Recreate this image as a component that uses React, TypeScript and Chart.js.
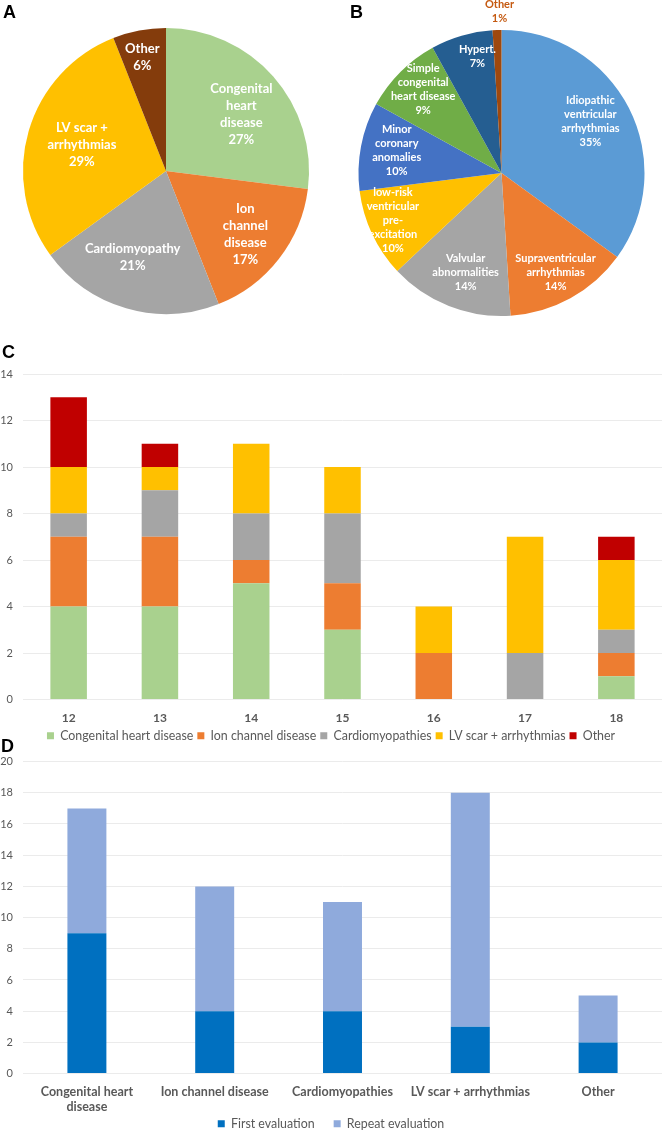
import React, { useEffect, useRef } from 'react';
import { Chart, registerables } from 'chart.js';

Chart.register(...registerables);

// ---------- DATA ----------
// Panel A
const pieALabels = [['Congenital', 'heart', 'disease'], ['Ion', 'channel', 'disease'], ['Cardiomyopathy'], ['LV scar +', 'arrhythmias'], ['Other']];
const pieAValues = [27, 17, 21, 29, 6];
const pieAColors = ['#A9D18E', '#ED7D31', '#A5A5A5', '#FFC000', '#843C0C'];

// Panel B
const pieBLabels = [
  ['Idiopathic', 'ventricular', 'arrhythmias'],
  ['Supraventricular', 'arrhythmias'],
  ['Valvular', 'abnormalities'],
  ['low-risk', 'ventricular', 'pre-', 'excitation'],
  ['Minor', 'coronary', 'anomalies'],
  ['Simple', 'congenital', 'heart disease'],
  ['Hypert.'],
  ['Other'],
];
const pieBValues = [35, 14, 14, 10, 10, 9, 7, 1];
const pieBColors = ['#5B9BD5', '#ED7D31', '#A5A5A5', '#FFC000', '#4472C4', '#70AD47', '#255E91', '#9E480E'];

// Panel C
const ageCategories = ['12', '13', '14', '15', '16', '17', '18'];
const cSeriesNames = ['Congenital heart disease', 'Ion channel disease', 'Cardiomyopathies', 'LV scar + arrhythmias', 'Other'];
const congenitalByAge = [4, 4, 5, 3, 0, 0, 1];
const ionChannelByAge = [3, 3, 1, 2, 2, 0, 1];
const cardiomyopathyByAge = [1, 2, 2, 3, 0, 2, 1];
const lvScarByAge = [2, 1, 3, 2, 2, 5, 3];
const otherByAge = [3, 1, 0, 0, 0, 0, 1];
const cSeriesColors = ['#A9D18E', '#ED7D31', '#A5A5A5', '#FFC000', '#C00000'];
const cYMax = 14;
const cYStep = 2;

// Panel D
const dCategories = [['Congenital heart', 'disease'], 'Ion channel disease', 'Cardiomyopathies', 'LV scar + arrhythmias', 'Other'];
const dSeriesNames = ['First evaluation', 'Repeat evaluation'];
const firstEvaluation = [9, 4, 4, 3, 2];
const repeatEvaluation = [8, 8, 7, 15, 3];
const dSeriesColors = ['#0070C0', '#8FAADC'];
const dYMax = 20;
const dYStep = 2;

// ---------- STYLE ----------
const FONT = 'Lato, "Open Sans", sans-serif';
const TICK_COLOR = '#595959';
const GRID_COLOR = '#EBEBEB';

const pieLabelPlugin = {
  id: 'pieLabels',
  afterDatasetsDraw(chart: any, _args: any, opts: any) {
    const ctx = chart.ctx;
    const meta = chart.getDatasetMeta(0);
    const ds = chart.data.datasets[0];
    const labels = chart.data.labels as string[][];
    ctx.save();
    ctx.font = `bold ${opts.fontSize}px ${FONT}`;
    ctx.textAlign = 'center';
    ctx.textBaseline = 'middle';
    meta.data.forEach((el: any, i: number) => {
      const p = el.getProps(['x', 'y', 'startAngle', 'endAngle', 'outerRadius'], true);
      const mid = (p.startAngle + p.endAngle) / 2 + ((opts.nudges[i] || 0) * Math.PI) / 180;
      const r = p.outerRadius * opts.radii[i];
      const cx = p.x + Math.cos(mid) * r;
      const cy = p.y + Math.sin(mid) * r;
      const lines = [...labels[i], `${ds.data[i]}%`];
      const h = opts.lineHeight;
      const y0 = cy - ((lines.length - 1) * h) / 2;
      ctx.fillStyle = (opts.colors && opts.colors[i]) || '#FFFFFF';
      lines.forEach((t: string, k: number) => ctx.fillText(t, cx, y0 + k * h));
    });
    ctx.restore();
  },
};

// moves the built-in legend box vertically after layout
const legendShiftPlugin = {
  id: 'legendShift',
  afterLayout(chart: any, _args: any, opts: any) {
    const lg = chart.legend;
    if (lg && opts && opts.dy) {
      lg.top += opts.dy;
      lg.bottom += opts.dy;
    }
  },
};

function ChartCanvas({ config, style, width, height }: any) {
  const ref = useRef<HTMLCanvasElement>(null);
  useEffect(() => {
    if (!ref.current) return;
    const chart = new Chart(ref.current, config());
    return () => chart.destroy();
  }, []);
  return <canvas ref={ref} width={width} height={height} style={{ position: 'absolute', ...style }} />;
}

const pieConfig = (labels: string[][], values: number[], colors: string[], padding: any, labelOpts: any) => () => ({
  type: 'pie',
  data: {
    labels,
    datasets: [{ data: values, backgroundColor: colors, borderWidth: 0, hoverOffset: 0, offset: 0 }],
  },
  options: {
    responsive: false,
    animation: false,
    layout: { padding },
    events: [],
    plugins: { legend: { display: false }, tooltip: { enabled: false }, pieLabels: labelOpts },
  },
  plugins: [pieLabelPlugin],
});

const yAxis = (max: number, step: number) => ({
  stacked: true,
  min: 0,
  max,
  ticks: { stepSize: step, color: TICK_COLOR, font: { family: FONT, size: 11 }, padding: 10 },
  grid: { color: GRID_COLOR, drawTicks: false, lineWidth: 1 },
  border: { display: false },
  afterFit: (s: any) => { s.width = 23; },
});

const xAxis = (h: number, size: number) => ({
  stacked: true,
  ticks: { color: TICK_COLOR, font: { family: FONT, size, weight: 'bold' }, padding: 11, autoSkip: false, maxRotation: 0 },
  grid: { display: false, drawTicks: false },
  border: { display: false },
  afterFit: (s: any) => { s.height = h; },
});

const legendOpts = (pad: number, size: number) => ({
  position: 'bottom',
  labels: { boxWidth: 7, boxHeight: 7, padding: pad, color: TICK_COLOR, font: { family: FONT, size } },
});

const configC = () => ({
  type: 'bar',
  data: {
    labels: ageCategories,
    datasets: [congenitalByAge, ionChannelByAge, cardiomyopathyByAge, lvScarByAge, otherByAge].map((d, i) => ({
      label: cSeriesNames[i],
      data: d,
      backgroundColor: cSeriesColors[i],
      borderWidth: 0,
      categoryPercentage: 1,
      barPercentage: 0.4,
    })),
  },
  options: {
    responsive: false,
    animation: false,
    events: [],
    layout: { padding: { top: 29, left: 0, right: 4, bottom: 3 } },
    scales: { x: xAxis(26, 12), y: yAxis(cYMax, cYStep) },
    plugins: { legend: legendOpts(4, 12.4), tooltip: { enabled: false } },
  },
});

const configD = () => ({
  type: 'bar',
  data: {
    labels: dCategories,
    datasets: [firstEvaluation, repeatEvaluation].map((d, i) => ({
      label: dSeriesNames[i],
      data: d,
      backgroundColor: dSeriesColors[i],
      borderWidth: 0,
      categoryPercentage: 1,
      barPercentage: 0.305,
    })),
  },
  options: {
    responsive: false,
    animation: false,
    events: [],
    layout: { padding: { top: 16, left: 0, right: 4, bottom: 0 } },
    scales: { x: xAxis(42, 12.5), y: yAxis(dYMax, dYStep) },
    plugins: { legend: legendOpts(19, 12.4), tooltip: { enabled: false }, legendShift: { dy: -17 } },
  },
  plugins: [legendShiftPlugin],
});

const letterStyle: any = {
  position: 'absolute',
  fontFamily: '"Liberation Sans", Arial, sans-serif',
  fontWeight: 'bold',
  fontSize: 18,
  lineHeight: '18px',
  color: '#000',
  zIndex: 5,
};

export default function App() {
  return (
    <div style={{ position: 'absolute', left: 0, top: 0, width: 666, height: 1134, overflow: 'hidden', background: '#fff' }}>
      <ChartCanvas
        width={333}
        height={320}
        style={{ left: 0, top: 0 }}
        config={pieConfig(pieALabels, pieAValues, pieAColors, { left: 23, top: 28, right: 24, bottom: 6 }, {
          fontSize: 13,
          lineHeight: 17,
          radii: [0.66, 0.71, 0.65, 0.615, 0.81],
          nudges: [4.4, 0.8, 4.8, 0.8, -1],
        })}
      />
      <ChartCanvas
        width={333}
        height={320}
        style={{ left: 333, top: 0 }}
        config={pieConfig(pieBLabels, pieBValues, pieBColors, { left: 25, top: 30, right: 21, bottom: 4 }, {
          fontSize: 11,
          lineHeight: 14,
          radii: [0.72, 0.79, 0.74, 0.83, 0.75, 0.8, 0.83, 1.13],
          nudges: [-3.3, 0.2, -1.8, 1.4, 1.6, 1.8, 4.5, 1.1],
          colors: [null, null, null, null, null, null, null, '#C55A11'],
        })}
      />
      <ChartCanvas width={666} height={410} style={{ left: 0, top: 345 }} config={configC} />
      <ChartCanvas width={666} height={412} style={{ left: 0, top: 745 }} config={configD} />
      <div style={{ ...letterStyle, left: 3, top: 3 }}>A</div>
      <div style={{ ...letterStyle, left: 350, top: 3 }}>B</div>
      <div style={{ ...letterStyle, left: 2, top: 343 }}>C</div>
      <div style={{ ...letterStyle, left: 1, top: 737 }}>D</div>
    </div>
  );
}
